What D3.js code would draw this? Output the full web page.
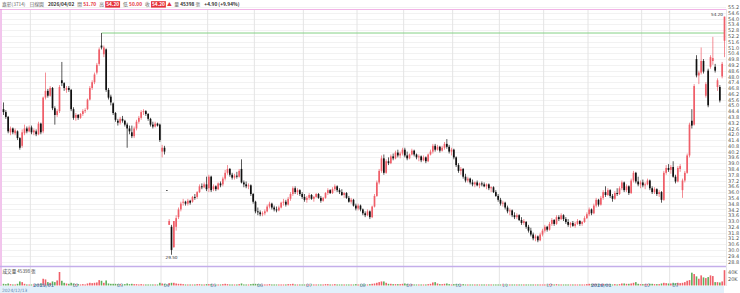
<!DOCTYPE html>
<html>
<head>
<meta charset="utf-8">
<script src="https://cdn.jsdelivr.net/npm/d3@7"></script>
<style>
body{margin:0;background:#fff}
text{font-family:"Noto Sans CJK TC","Noto Sans",sans-serif}
</style>
</head>
<body>
<div id="chart"></div>
<script>
// daily candles [open, high, low, close], 2024/12/13 .. 2026/04/02
const ohlc = [
  // 2024/12
  [44.6,45.3,44.0,44.3],[44.3,44.5,43.6,43.8],[43.8,43.9,42.1,42.3],[42.2,42.8,41.9,42.6],[42.6,42.7,42.0,42.2],[42.1,42.6,41.9,42.4],
  [42.3,42.4,41.4,41.6],[41.6,41.7,40.4,40.6],[40.8,42.5,40.6,42.2],[42.1,43.0,41.9,42.6],[42.6,42.8,42.1,42.3],[42.3,42.9,42.2,42.7],
  // 2025/01
  [42.7,42.9,42.0,42.2],[42.2,42.6,41.9,42.4],[42.3,42.5,41.8,42.0],[42.0,43.3,41.9,43.1],[43.1,43.2,42.0,42.2],[42.3,45.9,42.1,45.8],
  [45.8,48.4,45.6,46.5],[46.5,46.7,45.8,46.0],[46.0,47.0,45.9,46.8],[46.8,46.9,44.5,44.7],[44.7,44.9,43.0,44.0],[44.0,44.6,43.8,44.4],
  [44.4,47.1,44.2,46.9],[47.6,49.5,47.0,47.3],[47.3,47.4,46.5,46.8],[46.6,47.0,46.3,46.8],[46.8,47.0,46.4,46.6],
  // 02
  [46.6,46.7,44.4,44.6],[44.6,44.8,43.5,43.7],[43.7,44.2,43.4,44.0],[44.0,44.1,43.5,43.7],[43.7,44.2,43.6,44.1],[44.1,44.6,43.9,44.4],
  [44.4,44.7,44.2,44.5],[44.6,45.7,44.5,45.6],[45.6,47.0,45.5,46.8],[46.8,47.6,46.6,47.4],[47.4,48.4,47.2,48.2],[48.4,49.4,48.2,49.2],
  [49.3,51.0,49.1,50.8],[51.2,52.5,50.8,51.0],[50.3,51.2,50.0,51.0],[50.8,50.9,46.4,46.6],[46.6,46.8,45.6,45.8],[45.9,46.1,45.0,45.3],
  [45.2,45.3,44.0,44.2],
  // 03
  [44.2,44.3,43.3,43.5],[43.4,43.6,42.9,43.2],[43.2,43.8,43.0,43.6],[43.6,43.9,43.2,43.4],[43.4,43.5,42.8,43.0],[43.0,43.2,40.6,42.6],
  [42.6,42.9,42.0,42.3],[42.2,42.9,41.6,41.8],[41.8,42.8,41.6,42.6],[42.6,43.5,42.4,43.3],[43.3,43.9,43.1,43.7],[43.7,44.5,43.5,44.3],
  [44.3,44.6,44.0,44.4],[44.4,44.5,43.9,44.1],[44.1,44.2,43.4,43.6],[43.6,43.7,42.8,43.0],[43.0,43.3,42.6,42.8],[42.8,43.3,42.7,43.1],
  [43.1,43.2,42.8,42.9],[43.0,43.1,41.2,41.4],
  // 04
  [40.2,40.9,39.6,40.6],[40.6,40.8,39.9,40.2],[36.2,36.2,36.2,36.2],[32.6,33.2,32.6,33.0],[32.4,32.6,29.5,30.0],[30.3,33.0,30.2,33.0],
  [32.4,33.6,32.0,33.3],[33.4,34.4,33.2,34.2],[34.2,35.0,34.0,34.8],[34.9,35.3,34.6,35.0],[35.0,35.1,34.6,34.8],[34.8,35.3,34.6,35.1],
  [35.1,35.2,34.7,34.9],[35.0,35.6,34.9,35.5],[35.5,35.8,35.2,35.4],[35.5,36.1,35.3,36.0],[36.0,36.8,35.9,36.6],[36.6,36.9,36.3,36.5],
  [36.5,37.0,36.4,36.8],[36.8,37.6,36.1,36.3],
  // 05
  [36.4,37.8,36.0,37.6],[37.6,37.7,36.0,36.2],[36.3,36.8,36.1,36.6],[36.6,36.7,36.1,36.3],[36.3,37.0,36.2,36.9],[36.9,37.1,36.5,36.7],
  [36.8,37.6,36.6,37.4],[37.4,38.3,37.2,38.0],[38.0,38.8,37.8,38.4],[38.4,38.5,37.6,37.8],[37.8,38.0,37.3,37.5],[37.5,37.9,37.3,37.7],
  [37.7,38.1,37.4,37.6],[37.6,38.4,37.5,38.2],[38.4,39.4,36.9,37.0],[37.0,37.2,36.5,36.8],[36.8,37.1,36.4,36.6],[36.6,36.9,36.3,36.7],
  [36.7,36.8,35.6,35.8],[35.8,35.9,34.8,35.0],
  // 06
  [35.0,35.1,33.8,34.0],[34.0,34.4,33.6,33.9],[33.9,34.1,33.5,33.7],[33.7,34.0,33.5,33.8],[33.8,34.2,33.6,34.0],[34.0,34.7,33.9,34.5],
  [34.5,35.0,34.3,34.8],[34.8,34.9,34.2,34.4],[34.4,34.6,34.0,34.2],[34.2,34.5,33.9,34.1],[34.1,34.6,34.0,34.4],[34.4,35.0,34.3,34.9],
  [34.9,35.3,34.6,35.0],[35.0,35.2,34.5,34.7],[34.7,35.5,34.6,35.3],[35.3,36.0,35.1,35.8],[35.8,36.6,35.6,36.4],[36.4,36.6,35.8,36.0],
  [36.0,36.4,35.7,36.2],[36.2,36.3,35.6,35.8],[35.8,36.0,35.3,35.5],
  // 07
  [35.5,35.8,35.0,35.2],[35.2,35.6,34.9,35.4],[35.4,35.9,35.2,35.7],[35.7,35.8,35.2,35.3],[35.3,35.6,35.0,35.5],[35.5,35.9,35.4,35.8],
  [35.8,35.9,35.3,35.4],[35.4,35.6,34.9,35.1],[35.1,35.5,35.0,35.4],[35.4,36.0,35.3,35.9],[35.9,36.4,35.7,36.2],[36.2,36.3,35.8,35.9],
  [35.9,36.5,35.8,36.3],[36.3,36.8,36.1,36.6],[36.6,36.7,36.0,36.2],[36.2,36.4,35.8,36.0],[36.0,36.3,35.6,35.7],[35.7,36.0,35.4,35.9],
  [35.9,36.0,35.3,35.4],[35.4,35.6,34.9,35.0],[35.0,35.4,34.8,35.2],[35.2,35.3,34.5,34.6],[34.6,34.8,34.1,34.3],
  // 08
  [34.3,34.8,34.1,34.6],[34.6,34.7,34.0,34.2],[34.2,34.3,33.6,33.8],[33.8,34.0,33.4,33.6],[33.6,34.2,33.5,34.0],[34.0,34.1,33.2,33.4],
  [33.4,34.6,33.3,34.5],[34.5,35.8,34.4,35.6],[35.6,37.2,35.5,37.0],[37.0,38.4,36.8,38.2],[38.2,39.8,38.0,39.5],[39.5,39.9,37.8,38.0],
  [38.0,39.4,37.9,39.2],[39.2,39.6,38.8,39.0],[39.0,39.9,38.9,39.7],[39.7,40.0,39.3,39.5],[39.5,40.3,39.4,40.1],[40.1,40.4,39.6,39.8],
  [39.8,40.2,39.5,40.0],[40.0,40.6,39.8,40.4],
  // 09
  [40.4,40.6,39.6,39.8],[39.8,40.2,39.3,39.5],[39.5,40.0,39.4,39.9],[39.9,40.5,39.8,40.3],[40.3,40.4,39.7,39.9],[39.9,40.0,39.4,39.6],
  [39.6,39.9,39.2,39.7],[39.7,39.8,39.1,39.3],[39.3,39.8,39.2,39.6],[39.6,39.7,39.0,39.2],[39.2,40.0,39.1,39.9],[39.9,40.4,39.8,40.2],
  [40.2,41.0,40.0,40.8],[40.8,41.0,40.2,40.4],[40.4,40.9,40.3,40.7],[40.7,40.8,40.1,40.3],[40.3,40.8,40.2,40.6],[40.6,41.2,40.4,41.0],
  [41.0,41.5,40.5,40.7],[40.7,40.9,40.0,40.2],[40.2,40.6,39.8,40.4],
  // 10
  [40.4,40.5,39.4,39.6],[39.6,39.7,38.6,38.8],[38.8,39.0,38.0,38.2],[38.2,38.6,37.8,38.4],[38.4,38.5,37.4,37.6],[37.6,37.9,37.0,37.2],
  [37.2,37.6,37.0,37.4],[37.4,37.5,36.8,37.0],[37.0,37.3,36.6,36.8],[36.8,37.1,36.5,37.0],[37.0,37.2,36.6,36.7],[36.7,37.0,36.4,36.9],
  [36.9,37.1,36.6,36.8],[36.8,37.0,36.5,36.6],[36.6,36.9,36.3,36.8],[36.8,36.9,36.2,36.4],[36.4,36.6,36.0,36.5],[36.5,36.6,35.9,36.0],
  [36.0,36.2,35.5,35.6],[35.6,35.8,35.0,35.2],
  // 11
  [35.2,35.4,34.6,34.8],[34.8,35.1,34.5,34.9],[34.9,35.0,34.2,34.4],[34.4,34.6,33.8,34.0],[34.0,34.3,33.6,34.1],[34.1,34.2,33.4,33.6],
  [33.6,33.9,33.2,33.4],[33.4,33.8,33.2,33.6],[33.6,33.7,33.0,33.1],[33.1,33.4,32.6,32.8],[32.8,33.2,32.6,33.0],[32.9,33.0,32.2,32.4],
  [32.4,32.6,31.8,32.0],[32.0,32.3,31.4,31.6],[31.6,31.8,31.0,31.2],[31.2,31.6,30.9,31.4],[31.4,31.5,30.8,31.0],[31.0,31.8,30.9,31.6],
  [31.6,32.2,31.4,32.0],
  // 12
  [32.0,32.6,31.8,32.4],[32.4,32.5,31.9,32.1],[32.1,32.9,32.0,32.7],[32.7,33.3,32.5,33.1],[33.1,33.2,32.5,32.7],[32.7,33.6,32.6,33.4],
  [33.4,33.6,33.0,33.2],[33.2,33.8,33.1,33.6],[33.6,33.7,33.0,33.2],[33.2,33.4,32.7,32.9],[32.9,33.2,32.4,32.6],[32.6,32.9,32.3,32.8],
  [32.8,33.0,32.4,32.5],[32.5,32.9,32.3,32.7],[32.7,33.2,32.6,33.0],[33.0,33.1,32.5,32.7],[32.7,33.0,32.5,32.9],[32.9,33.5,32.8,33.3],
  [33.3,33.9,33.2,33.7],
  // 2026/01
  [33.7,34.4,33.5,34.2],[34.2,34.3,33.6,33.8],[33.8,34.8,33.7,34.6],[34.6,35.4,34.4,35.2],[35.2,35.3,34.5,34.7],[34.7,35.6,34.6,35.4],
  [35.4,36.2,35.2,36.0],[36.0,36.6,35.5,35.7],[35.7,36.4,35.6,36.2],[36.2,36.3,35.4,35.6],[35.6,35.8,35.0,35.3],[35.3,36.1,35.2,35.9],
  [35.9,36.4,35.6,35.8],[35.8,36.6,35.7,36.4],[36.4,37.2,36.2,37.0],[37.0,37.1,36.0,36.2],[36.2,36.8,36.0,36.6],[36.6,36.7,35.7,35.9],
  [35.9,37.4,35.8,37.2],[37.2,38.2,37.0,38.0],[38.0,38.1,36.9,37.1],[37.1,37.6,36.6,36.8],[36.8,37.2,36.4,37.0],
  // 02
  [37.0,37.3,36.5,36.7],[36.7,37.0,36.3,36.8],[36.8,37.4,36.7,37.2],[37.2,37.3,36.2,36.4],[36.4,36.6,35.8,36.0],[36.0,36.5,35.8,36.3],
  [36.3,36.4,35.6,35.8],[35.8,36.2,35.5,36.0],[36.0,36.1,34.9,35.2],[35.2,38.2,35.1,38.0],[38.0,38.8,37.8,38.5],[38.5,38.9,38.1,38.3],
  // 03
  [38.3,38.8,37.9,38.6],[38.6,39.2,37.5,37.6],[37.6,37.8,36.9,37.1],[37.1,38.7,37.0,38.5],[38.4,38.9,38.1,38.7],[36.2,37.4,35.4,37.2],
  [37.2,38.2,37.0,38.0],[38.0,40.0,37.9,39.8],[39.8,43.2,39.6,43.0],[43.4,44.6,42.6,42.9],[43.0,47.2,42.9,47.0],[49.8,50.2,47.9,48.1],
  [48.1,48.6,47.2,48.4],[48.4,51.0,48.2,49.6],[49.6,49.8,48.3,48.5],[46.0,47.4,45.8,47.2],[48.6,48.8,44.8,45.0],[49.0,50.2,48.8,50.0],
  [49.6,52.1,49.2,49.9],[49.0,49.3,48.4,48.6],[46.9,47.8,46.5,47.6],[46.9,47.1,45.3,45.5],
  // 04
  [48.0,49.5,47.8,49.3],[51.7,54.2,50.0,54.2]
]

// volume, thousand lots
const volumes = [
  5,4,6,4,3,3,5,12,10,5,3,3,
  3,3,3,5,6,20,18,10,8,12,10,15,40,14,8,6,5,
  8,6,4,4,3,4,3,6,8,7,8,9,16,14,8,15,6,5,5,
  5,4,4,3,4,6,4,5,4,4,3,4,3,3,3,3,3,3,3,8,
  6,5,3,7,8,8,6,5,5,4,3,3,3,3,3,4,4,3,3,4,
  4,4,3,3,3,3,4,5,4,3,3,3,3,4,6,3,3,3,4,5,
  5,4,3,3,3,3,4,3,3,3,3,3,3,3,4,4,5,3,3,3,3,
  3,3,3,3,3,3,3,3,3,4,4,3,3,4,3,3,3,3,3,3,3,3,4,
  3,3,3,3,3,4,5,6,8,10,12,12,8,5,5,4,4,4,4,5,
  6,4,3,4,3,3,3,3,3,3,4,5,9,10,6,4,4,5,6,4,3,
  4,4,4,3,4,3,3,3,3,3,3,3,3,3,3,3,3,3,3,3,
  3,3,3,3,3,3,3,3,3,3,3,3,3,3,3,3,3,3,3,
  3,3,4,4,3,4,3,3,3,3,3,3,3,3,3,3,3,3,4,
  5,4,5,5,4,4,5,4,4,4,3,4,3,4,6,6,5,5,6,8,10,5,4,
  4,4,4,5,5,4,4,4,6,8,7,6,
  6,8,7,8,7,8,10,14,16,38,34,27,20,30,24,22,25,30,28,10,10,9,
  12,45.398
]

const startLabel = "2024/12/13"
const monthStarts = [12,29,48,68,88,108,129,152,172,193,213,232,251,274,286]
const monthLabels = ["2025/01","02","03","04","05","06","07","08","09","10","11","12","2026/01","02","03"]
const priceTicks = [28.8,29.4,30.0,30.6,31.2,31.8,32.4,33.0,33.6,34.2,34.8,35.4,36.0,36.6,37.2,37.8,38.4,39.0,39.6,40.2,
  40.8,41.4,42.0,42.6,43.2,43.8,44.4,45.0,45.6,46.2,46.8,47.4,48.0,48.6,49.2,49.8,50.4,51.0,51.6,52.2,52.8,53.4,54.0,54.6,55.2]
const volTicks = [20,40]

const ancho = 740, alto = 293
const rojo = "#ef5f69", negro = "#111", verde = "#5dae5a"

const svg = d3.select("#chart").append("svg").attr("width", ancho).attr("height", alto)

const x = d3.scaleLinear().domain([0, ohlc.length - 1]).range([3.5, 724.5])
const y = d3.scaleLinear().domain([28.8, 55.2]).range([261.5, 7])
const yv = d3.scaleLinear().domain([0, 40]).range([285.5, 272])
const paso = x(1) - x(0)

// grid
const grid = svg.append("g")
grid.selectAll(".h").data(priceTicks).enter().append("line")
  .attr("x1", 2).attr("x2", 726).attr("y1", d => Math.round(y(d)) + 0.5).attr("y2", d => Math.round(y(d)) + 0.5)
  .attr("stroke", "#f2f2f2")
grid.selectAll(".v").data(monthStarts).enter().append("line")
  .attr("x1", d => x(d) - paso / 2).attr("x2", d => x(d) - paso / 2)
  .attr("y1", 10).attr("y2", 286).attr("stroke", "#e4e4e4")

// frame
svg.append("line").attr("x1", 0).attr("x2", 726).attr("y1", 9.5).attr("y2", 9.5).attr("stroke", "#f1b3e6")
svg.append("line").attr("x1", 1).attr("x2", 1).attr("y1", 9).attr("y2", 286).attr("stroke", "#e48ad9")
svg.append("line").attr("x1", 726.5).attr("x2", 726.5).attr("y1", 9).attr("y2", 286).attr("stroke", "#e6e6e6")
svg.append("line").attr("x1", 0).attr("x2", 726).attr("y1", 266.5).attr("y2", 266.5).attr("stroke", "#c4aeea").attr("stroke-width", 1.6)

// date band
svg.append("rect").attr("x", 0).attr("y", 286).attr("width", 724).attr("height", 7).attr("fill", "#e2f0fb")

// previous high line
const prev = ohlc.slice(0, ohlc.length - 1)
const iMax = d3.maxIndex(prev, d => d[1])
svg.append("line").attr("x1", x(iMax)).attr("x2", 725).attr("y1", y(prev[iMax][1])).attr("y2", y(prev[iMax][1]))
  .attr("stroke", "#86d186").attr("stroke-width", 1)

// candles
const velas = svg.append("g").selectAll("g").data(ohlc).enter().append("g")
const color = d => d[3] > d[0] ? rojo : negro
velas.append("line")
  .attr("x1", (d, i) => x(i)).attr("x2", (d, i) => x(i))
  .attr("y1", d => y(d[1])).attr("y2", d => y(d[2]))
  .attr("stroke", color).attr("stroke-width", 0.7)
velas.append("rect")
  .attr("x", (d, i) => x(i) - 0.85).attr("width", 1.7)
  .attr("y", d => y(Math.max(d[0], d[3])))
  .attr("height", d => Math.max(0.7, Math.abs(y(d[0]) - y(d[3]))))
  .attr("fill", color)

// volume
svg.append("g").selectAll("rect").data(volumes).enter().append("rect")
  .attr("x", (d, i) => x(i) - 0.8).attr("width", 1.6)
  .attr("y", d => yv(d)).attr("height", d => yv(0) - yv(d))
  .attr("fill", (d, i) => ohlc[i][3] > ohlc[i][0] ? rojo : verde)

// price axis
const ejeY = d3.axisRight(y).tickValues(priceTicks).tickSize(0).tickPadding(0).tickFormat(d3.format(".1f"))
const gy = svg.append("g").attr("transform", "translate(728,0)").call(ejeY)
gy.select(".domain").remove()
gy.selectAll("text").attr("font-size", 5).attr("fill", "#555").style("font-family", "DejaVu Sans")

const ejeV = d3.axisRight(yv).tickValues(volTicks).tickSize(0).tickPadding(0).tickFormat(d => d + "K")
const gv = svg.append("g").attr("transform", "translate(728,0)").call(ejeV)
gv.select(".domain").remove()
gv.selectAll("text").attr("font-size", 5).attr("fill", "#555").style("font-family", "DejaVu Sans")

// date axis
const ejeX = d3.axisBottom(x).tickValues(monthStarts).tickSize(0).tickPadding(0).tickFormat((d, i) => monthLabels[i])
const gx = svg.append("g").attr("transform", "translate(0,287)").call(ejeX)
gx.select(".domain").remove()
gx.selectAll("text").attr("text-anchor", "start").attr("dx", 1).attr("dy", 0.2)
  .attr("font-size", 4.6).attr("fill", "#5b83ad").style("font-family", "DejaVu Sans")
  .attr("font-weight", (d, i) => monthLabels[i].length > 2 ? "bold" : null)
svg.append("text").attr("x", 2).attr("y", 291.5).attr("font-size", 4.4).attr("fill", "#5b83ad")
  .style("font-family", "DejaVu Sans").text(startLabel)

// low / high marks
const iMin = d3.minIndex(ohlc, d => d[2])
svg.append("text").attr("x", x(iMin)).attr("y", y(ohlc[iMin][2]) + 4.5).attr("text-anchor", "middle")
  .attr("font-size", 4.2).attr("fill", "#333").style("font-family", "DejaVu Sans").text(ohlc[iMin][2].toFixed(2))
const last = ohlc.length - 1
svg.append("text").attr("x", x(last) - 1.5).attr("y", y(ohlc[last][1]) - 0.5).attr("text-anchor", "end")
  .attr("font-size", 4.2).attr("fill", "#333").style("font-family", "DejaVu Sans").text(ohlc[last][1].toFixed(2))

// header, laid out left to right by measured width
const d = ohlc[last], prevClose = ohlc[last - 1][3]
const cambio = d[3] - prevClose
const head = svg.append("g").attr("font-size", 4.8)
let cx = 2
const put = (tx, fill, weight, gap, boxed) => {
  if (boxed) cx += 1
  const t = head.append("text").attr("x", cx).attr("y", 6.2).attr("fill", fill)
    .attr("font-weight", weight || null).text(tx)
  const w = t.node().getComputedTextLength()
  if (boxed) head.insert("rect", "text").attr("x", cx - 1).attr("y", 1.2).attr("width", w + 2).attr("height", 6.4).attr("fill", "#e5323b")
  cx += w + (boxed ? 1 : 0) + gap
}
put("嘉彰(3714)", "#666", null, 4)
put("日線圖", "#666", null, 4)
put("2026/04/02", "#333", "bold", 3)
put("開", "#666", null, 1.2); put(d[0].toFixed(2), "#e5323b", "bold", 3)
put("高", "#666", null, 1.2); put(d[1].toFixed(2), "#fff", "bold", 3, true)
put("低", "#666", null, 1.2); put(d[2].toFixed(2), "#e5323b", "bold", 3)
put("收", "#666", null, 1.2); put(d[3].toFixed(2), "#fff", "bold", 1, true)
put("▲", "#e5323b", null, 2.5)
put("量", "#666", null, 1.2); put("45398", "#333", "bold", 1.2); put("張", "#666", null, 4)
put("+" + cambio.toFixed(2) + " (+" + (cambio / prevClose * 100).toFixed(2) + "%)", "#333", "bold", 0)

svg.append("text").attr("x", 2.5).attr("y", 272.5).attr("font-size", 4.6).attr("fill", "#444")
  .text("成交量 45398 張")
</script>
</body>
</html>
